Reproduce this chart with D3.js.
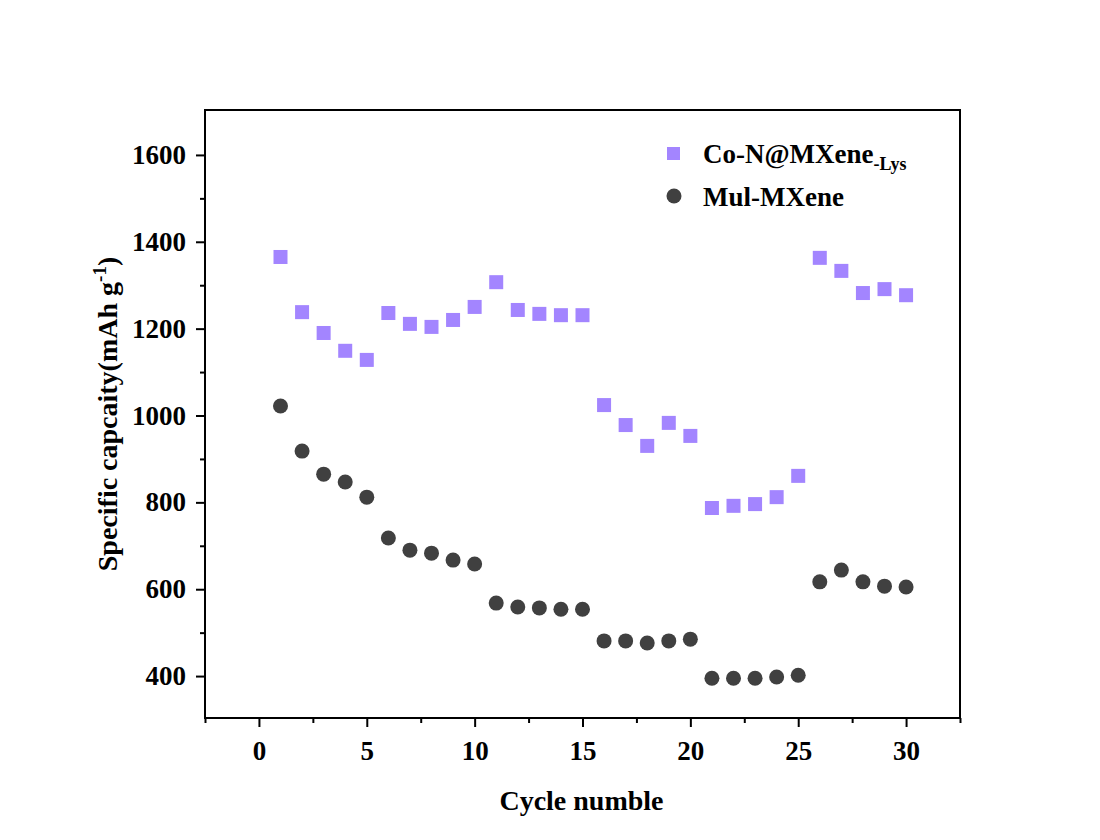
<!DOCTYPE html>
<html>
<head>
<meta charset="utf-8">
<script src="https://cdn.jsdelivr.net/npm/d3@7"></script>
<style>
  body { margin: 0; background: #fff; }
  text { font-family: "Liberation Serif", "Times New Roman", serif; font-weight: bold; fill: #000; }
</style>
</head>
<body>
<div class="chart"></div>
<script>
// data
const cycles = d3.range(1, 31);
const coN = [1365, 1238, 1190, 1149, 1128, 1236, 1211, 1204, 1220, 1250,
             1307, 1243, 1234, 1231, 1231, 1024, 978, 930, 983, 953,
             787, 792, 796, 812, 861, 1363, 1333, 1282, 1291, 1277];
const mul = [1022, 918, 865, 847, 812, 718, 690, 683, 667, 658,
             568, 559, 557, 554, 554, 481, 481, 476, 481, 485,
             395, 395, 395, 398, 402, 617, 644, 617, 607, 605];
const xTicks = [0, 5, 10, 15, 20, 25, 30];
const xMinor = [-2.5, 2.5, 7.5, 12.5, 17.5, 22.5, 27.5, 32.5];
const yTicks = [400, 600, 800, 1000, 1200, 1400, 1600];
const yMinor = [500, 700, 900, 1100, 1300, 1500];
const seriesNames = ['Co-N@MXene', 'Mul-MXene'];

const width = 1100, height = 840;
const mLeft = 205, mRight = 960, mTop = 110, mBottom = 718;

const svg = d3.select('.chart').append('svg')
  .attr('width', width).attr('height', height);

const x = d3.scaleLinear().domain([-2.5, 32.5]).range([mLeft, mRight]);
const y = d3.scaleLinear().domain([300, 1700]).range([mBottom + 1.5, mTop + 1.5]);

// frame
svg.append('rect')
  .attr('x', mLeft).attr('y', mTop)
  .attr('width', mRight - mLeft).attr('height', mBottom - mTop)
  .attr('fill', 'none').attr('stroke', '#000').attr('stroke-width', 2);

// Axis
const xAxis = svg.append('g').attr('transform', 'translate(0,' + mBottom + ')')
  .call(d3.axisBottom(x).tickValues(xTicks).tickSize(9).tickPadding(11).tickFormat(d3.format('d')));
svg.append('g').attr('transform', 'translate(0,' + mBottom + ')')
  .call(d3.axisBottom(x).tickValues(xMinor).tickSize(5).tickFormat(''));
const yAxis = svg.append('g').attr('transform', 'translate(' + mLeft + ',0)')
  .call(d3.axisLeft(y).tickValues(yTicks).tickSize(9).tickPadding(10).tickFormat(d3.format('d')));
svg.append('g').attr('transform', 'translate(' + mLeft + ',0)')
  .call(d3.axisLeft(y).tickValues(yMinor).tickSize(5).tickFormat(''));

svg.selectAll('.domain').remove();
svg.selectAll('.tick line').attr('stroke', '#000').attr('stroke-width', 2);
svg.selectAll('.tick text')
  .style('font-family', '"Liberation Serif", serif')
  .style('font-weight', 'bold')
  .style('font-size', '27px')
  .attr('fill', '#000');
xAxis.selectAll('.tick text').attr('dy', '0.8em');

// axis titles
svg.append('text')
  .attr('x', (mLeft + mRight) / 2 - 1).attr('y', 810)
  .attr('text-anchor', 'middle')
  .style('font-size', '28px')
  .text('Cycle numble');

const yt = svg.append('text')
  .attr('transform', 'translate(117,' + ((mTop + mBottom) / 2) + ') rotate(-90)')
  .attr('text-anchor', 'middle')
  .style('font-size', '28px');
yt.append('tspan').text('Specific capcaity(mAh g');
yt.append('tspan').attr('dy', '-11').style('font-size', '19px').text('-1');
yt.append('tspan').attr('dy', '11').text(')');

// points
const sq = 14;
svg.append('g').selectAll('rect')
  .data(coN)
  .enter().append('rect')
  .attr('x', (d, i) => x(cycles[i]) - sq / 2)
  .attr('y', d => y(d) - sq / 2)
  .attr('width', sq).attr('height', sq)
  .attr('fill', '#a385ff');

svg.append('g').selectAll('circle')
  .data(mul)
  .enter().append('circle')
  .attr('cx', (d, i) => x(cycles[i]))
  .attr('cy', d => y(d))
  .attr('r', 7.5)
  .attr('fill', '#404040');

// legend
const lg = svg.append('g');
lg.append('rect').attr('x', 667).attr('y', 147).attr('width', 13).attr('height', 13).attr('fill', '#a385ff');
const l1 = lg.append('text').attr('x', 703).attr('y', 163).style('font-size', '27px');
l1.append('tspan').text(seriesNames[0]);
l1.append('tspan').attr('dy', '7').style('font-size', '18px').text('-Lys');
lg.append('circle').attr('cx', 674).attr('cy', 196).attr('r', 7.5).attr('fill', '#404040');
lg.append('text').attr('x', 703).attr('y', 206).style('font-size', '27px').text(seriesNames[1]);
</script>
</body>
</html>
